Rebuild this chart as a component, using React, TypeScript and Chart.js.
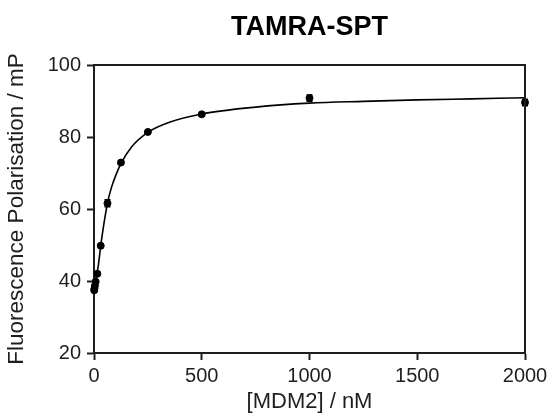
import React, { useEffect, useRef } from "react";
import { Chart, registerables } from "chart.js";

Chart.register(...registerables);

const titleText = "TAMRA-SPT";
const xTitle = "[MDM2] / nM";
const yTitle = "Fluorescence Polarisation / mP";

// measured points
const concentrations = [0.98, 1.95, 3.9, 7.8, 15.6, 31.25, 62.5, 125, 250, 500, 1000, 2000];
const polarisation = [37.4, 37.9, 38.6, 39.8, 42.0, 49.8, 61.6, 72.9, 81.4, 86.3, 90.8, 89.6];
const errors = [0.5, 0.5, 0.5, 0.5, 0.5, 0.5, 1.0, 0.5, 0.5, 0.5, 0.9, 0.9];

// fitted curve
const curveX = [0, 5, 10, 15, 20, 31.25, 45, 62.5, 80, 100, 125, 175, 250, 350, 500, 750, 1000, 1250, 1500, 1750, 2000];
const curveY = [37.5, 39.3, 41.0, 42.6, 44.3, 49.8, 55.5, 61.6, 65.8, 69.2, 72.6, 77.3, 81.3, 84.1, 86.4, 88.3, 89.4, 89.9, 90.3, 90.6, 90.9];

const xTicks = [0, 500, 1000, 1500, 2000];
const yTicks = [20, 40, 60, 80, 100];

const FONT = "'Liberation Sans', Arial, sans-serif";
const INK = "#1e1e1e";

const framePlugin = {
  id: "frameAndExtras",
  afterDatasetsDraw(chart: any) {
    const { ctx, chartArea, scales } = chart;
    const xs = scales.x;
    const ys = scales.y;
    ctx.save();
    // error bars
    ctx.strokeStyle = "#000";
    ctx.lineWidth = 1.5;
    concentrations.forEach((c, i) => {
      const px = xs.getPixelForValue(c);
      const top = ys.getPixelForValue(polarisation[i] + errors[i]);
      const bot = ys.getPixelForValue(polarisation[i] - errors[i]);
      ctx.beginPath();
      ctx.moveTo(px, top);
      ctx.lineTo(px, bot);
      ctx.moveTo(px - 3, top);
      ctx.lineTo(px + 3, top);
      ctx.moveTo(px - 3, bot);
      ctx.lineTo(px + 3, bot);
      ctx.stroke();
    });
    // top and right frame lines
    ctx.strokeStyle = INK;
    ctx.lineWidth = 2;
    ctx.beginPath();
    ctx.moveTo(chartArea.left, chartArea.top);
    ctx.lineTo(chartArea.right, chartArea.top);
    ctx.lineTo(chartArea.right, chartArea.bottom);
    ctx.stroke();
    // title centred on plot area
    ctx.fillStyle = "#000";
    ctx.font = `bold 27px ${FONT}`;
    ctx.textAlign = "center";
    ctx.textBaseline = "alphabetic";
    ctx.fillText(titleText, (chartArea.left + chartArea.right) / 2, 35);
    ctx.restore();
  },
};

export default function App() {
  const ref = useRef<HTMLCanvasElement | null>(null);
  useEffect(() => {
    if (!ref.current) return;
    const chart = new Chart(ref.current, {
      type: "scatter",
      data: {
        datasets: [
          {
            type: "scatter",
            data: concentrations.map((c, i) => ({ x: c, y: polarisation[i] })),
            backgroundColor: "#000",
            borderColor: "#000",
            pointRadius: 3.5,
            pointHoverRadius: 3.5,
            clip: false,
            order: 0,
          } as any,
          {
            type: "line",
            data: curveX.map((c, i) => ({ x: c, y: curveY[i] })),
            borderColor: "#000",
            borderWidth: 1.6,
            pointRadius: 0,
            fill: false,
            cubicInterpolationMode: "monotone",
            order: 1,
          } as any,
        ],
      },
      options: {
        animation: false,
        responsive: false,
        events: [],
        layout: { padding: { left: 0, right: 27, top: 65, bottom: 0 } },
        plugins: {
          legend: { display: false },
          title: { display: false },
          tooltip: { enabled: false },
        },
        scales: {
          x: {
            type: "linear",
            min: 0,
            max: 2000,
            afterBuildTicks: (s: any) => {
              s.ticks = xTicks.map((v) => ({ value: v }));
            },
            afterFit: (s: any) => {
              s.height = 419 - 353;
            },
            grid: {
              drawOnChartArea: false,
              drawTicks: true,
              tickLength: 7,
              tickWidth: 2,
              tickColor: INK,
            },
            border: { display: true, color: INK, width: 2 },
            ticks: {
              color: INK,
              font: { family: FONT, size: 20 },
              padding: 4,
              maxRotation: 0,
              callback: (v: any) => String(v),
            },
            title: {
              display: true,
              text: xTitle,
              color: INK,
              font: { family: FONT, size: 22 },
              padding: { top: 0, bottom: 4 },
            },
          },
          y: {
            type: "linear",
            min: 20,
            max: 100,
            afterBuildTicks: (s: any) => {
              s.ticks = yTicks.map((v) => ({ value: v }));
            },
            afterFit: (s: any) => {
              s.width = 94;
            },
            grid: {
              drawOnChartArea: false,
              drawTicks: true,
              tickLength: 7,
              tickWidth: 2,
              tickColor: INK,
            },
            border: { display: true, color: INK, width: 2 },
            ticks: {
              color: INK,
              font: { family: FONT, size: 20 },
              padding: 6,
              callback: (v: any) => String(v),
            },
            title: {
              display: true,
              text: yTitle,
              color: INK,
              font: { family: FONT, size: 22.5 },
              padding: { top: 3, bottom: 0 },
            },
          },
        },
      },
      plugins: [framePlugin],
    });
    return () => chart.destroy();
  }, []);
  return (
    <div style={{ position: "absolute", left: 0, top: 0, width: 552, height: 419, background: "#fff" }}>
      <canvas ref={ref} width={552} height={419} style={{ display: "block" }} />
    </div>
  );
}
